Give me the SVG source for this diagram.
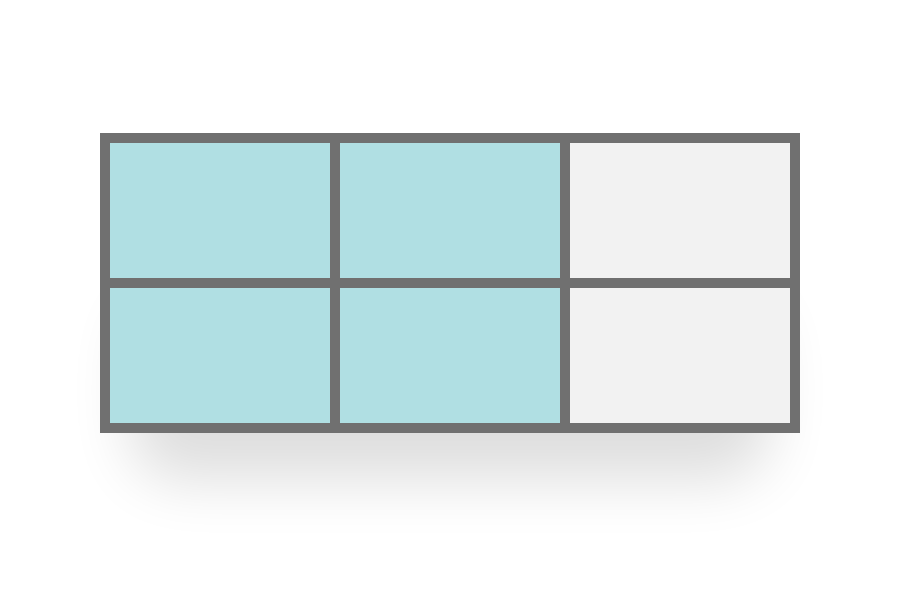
<svg xmlns="http://www.w3.org/2000/svg" width="900" height="600" viewBox="0 0 900 600">
  <defs>
    <filter id="shadow" x="-30%" y="-60%" width="160%" height="220%">
      <feGaussianBlur stdDeviation="30"/>
    </filter>
    <style>
      .cell { stroke: #707070; stroke-width: 10; }
      .on { fill: #b0dfe3; }
      .off { fill: #f2f2f2; }
    </style>
  </defs>
  <rect x="0" y="0" width="900" height="600" fill="#ffffff"/>
  <rect x="130" y="300" width="640" height="180" rx="50" fill="#000000" opacity="0.13" filter="url(#shadow)"/>
  <g id="grid">
    <rect id="c11" class="cell on" x="105" y="138" width="230" height="145"/>
    <rect id="c12" class="cell on" x="335" y="138" width="230" height="145"/>
    <rect id="c13" class="cell off" x="565" y="138" width="230" height="145"/>
    <rect id="c21" class="cell on" x="105" y="283" width="230" height="145"/>
    <rect id="c22" class="cell on" x="335" y="283" width="230" height="145"/>
    <rect id="c23" class="cell off" x="565" y="283" width="230" height="145"/>
  </g>
</svg>
